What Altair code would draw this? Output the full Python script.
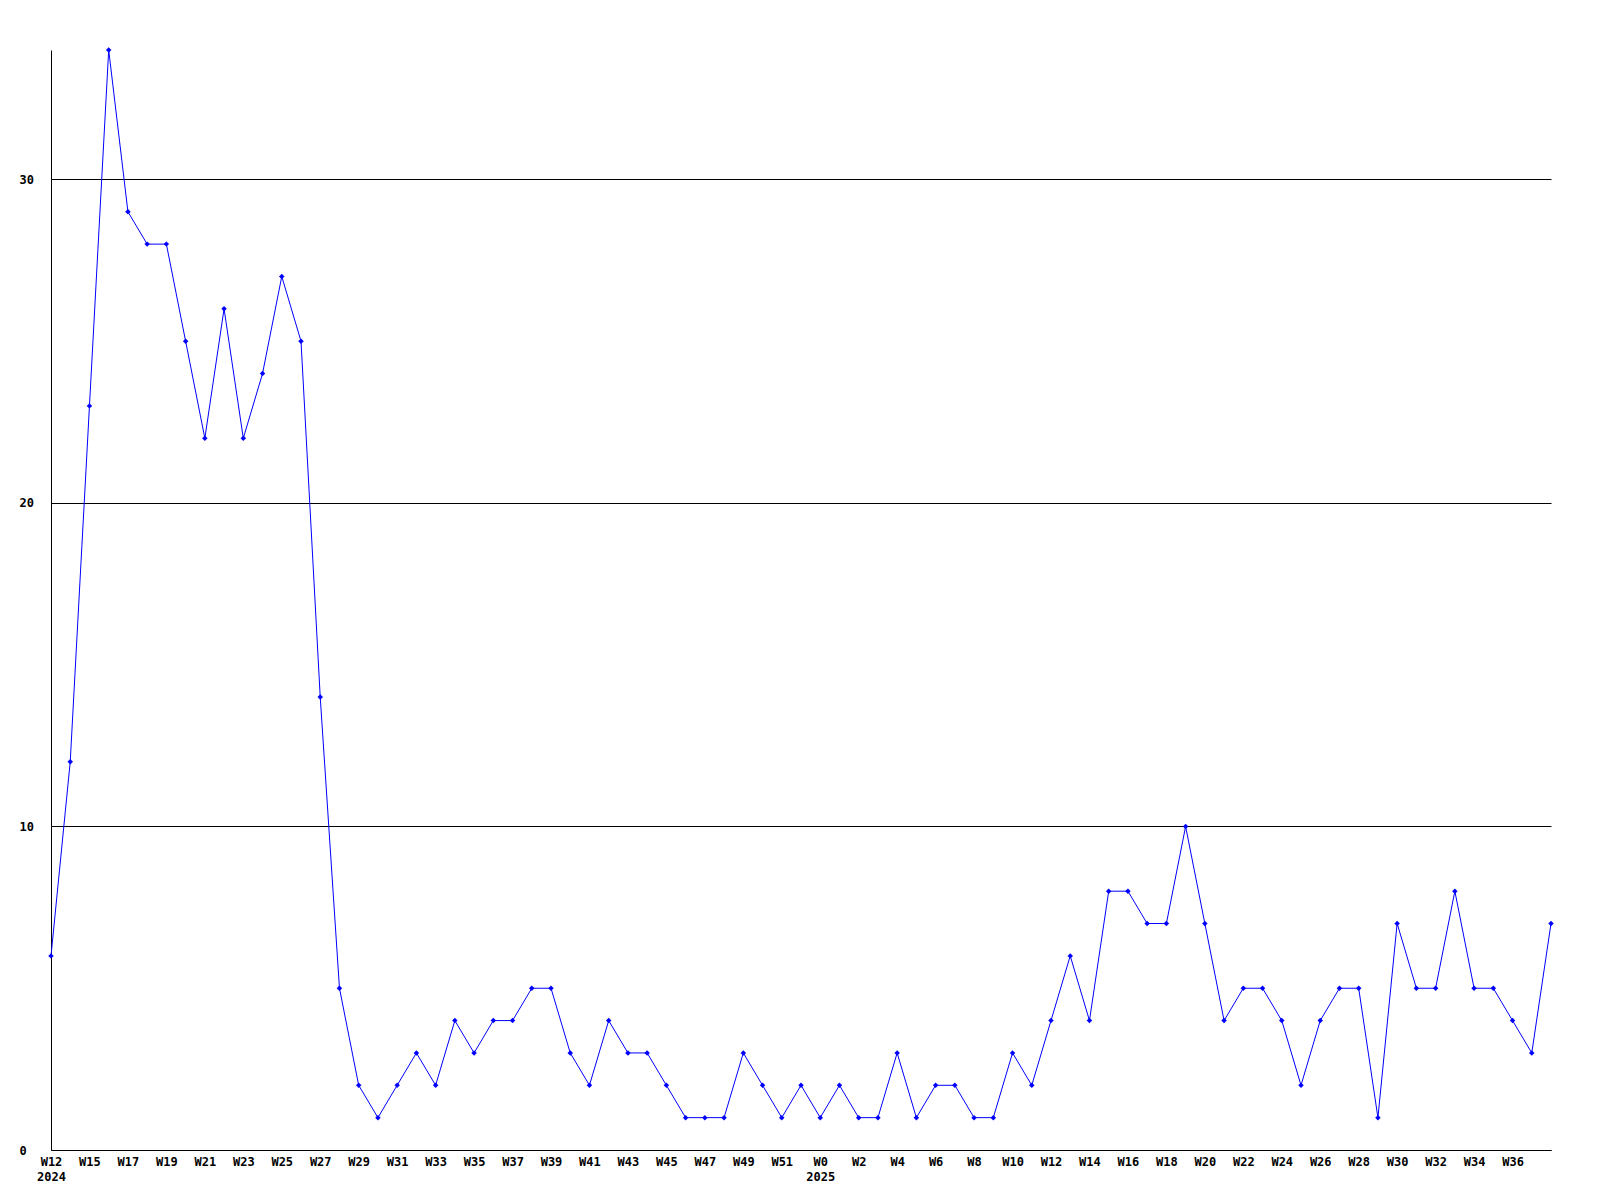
import json
import altair as alt
import pandas as pd

# weekly values, 2024 W12 .. 2025 W38 (79 points)
values = [6, 12, 23, 34, 29, 28, 28, 25, 22, 26, 22, 24, 27, 25, 14, 5, 2, 1, 2, 3,
          2, 4, 3, 4, 4, 5, 5, 3, 2, 4, 3, 3, 2, 1, 1, 1, 3, 2, 1, 2,
          1, 2, 1, 1, 3, 1, 2, 2, 1, 1, 3, 2, 4, 6, 4, 8, 8, 7, 7, 10,
          7, 4, 5, 5, 4, 2, 4, 5, 5, 1, 7, 5, 5, 8, 5, 5, 4, 3, 7]

# tick labels at every second point
tick_labels = ["W12\n2024", "W15", "W17", "W19", "W21", "W23", "W25", "W27", "W29", "W31",
               "W33", "W35", "W37", "W39", "W41", "W43", "W45", "W47", "W49", "W51",
               "W0\n2025", "W2", "W4", "W6", "W8", "W10", "W12", "W14", "W16", "W18",
               "W20", "W22", "W24", "W26", "W28", "W30", "W32", "W34", "W36"]
y_ticks = [0, 10, 20, 30]

df = pd.DataFrame({"i": list(range(len(values))), "v": values})
tick_pos = [2 * k for k in range(len(tick_labels))]
label_arr = [lab.split("\n") for lab in tick_labels]
label_expr = f"{json.dumps(label_arr)}[datum.value / 2]"

FONT = "DejaVu Sans Mono"

x = alt.X("i:Q", scale=alt.Scale(domain=[0, len(values) - 1], nice=False, zero=False),
          axis=alt.Axis(values=tick_pos, labelExpr=label_expr, title=None, grid=False,
                        ticks=False, labelPadding=6, domainColor="black", labelColor="black",
                        labelFont=FONT, labelFontWeight="bold", labelFontSize=12,
                        labelLineHeight=15, labelOverlap=False, labelBaseline="top",
                        labelFlush=False, labelBound=False))
y = alt.Y("v:Q", scale=alt.Scale(domain=[0, 34], nice=False, zero=True),
          axis=alt.Axis(values=y_ticks, title=None, grid=True, gridColor="black",
                        gridOpacity=1, gridWidth=1, ticks=False, labelAlign="left",
                        labelPadding=32, domainColor="black", labelColor="black",
                        labelFont=FONT, labelFontWeight="bold", labelFontSize=12,
                        labelOverlap=False))

base = alt.Chart(df).encode(x=x, y=y)
line = base.mark_line(color="#0000FF", strokeWidth=1)
pts = base.mark_point(shape="diamond", filled=True, color="#0000FF", size=30, opacity=1)

chart = (line + pts).properties(
    width=1500, height=1100,
    background="white",
    autosize=alt.AutoSizeParams(type="none"),
    padding={"left": 43, "top": 42, "right": 40, "bottom": 60},
).configure_view(strokeWidth=0, stroke=None)

chart.save("out.html", embed_options={"renderer": "svg", "actions": False})
